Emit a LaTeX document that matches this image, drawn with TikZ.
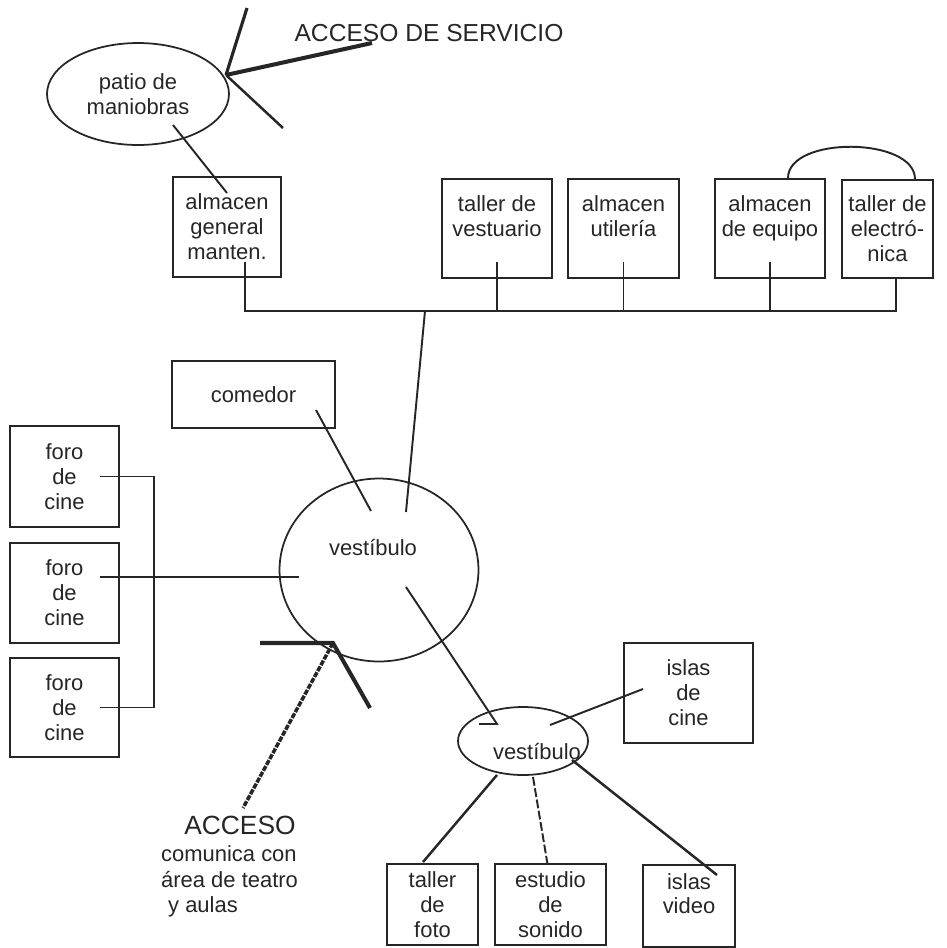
\documentclass[tikz,border=0pt]{standalone}
\usepackage{fontspec}
\setmainfont{Liberation Sans}
\usetikzlibrary{shapes.geometric}

\definecolor{ink}{gray}{0.15}
\newcommand{\roomfont}{\fontsize{12.5}{14.2}\selectfont}

\tikzset{
  room/.style={draw=ink, line width=1pt, align=center, inner sep=0pt},
  hall/.style={draw=ink, ellipse, line width=1pt, inner sep=0pt, align=center},
  link/.style={draw=ink, line width=1.1pt},
  entry/.style={draw=ink, line width=2.3pt},
}

\begin{document}
\begin{tikzpicture}[x=0.02cm, y=-0.02cm, font=\roomfont, text=ink]
        \useasboundingbox (0,0) rectangle (947,948);

        % Service yard and its access
        \node (patio) [hall, minimum width=3.64cm, minimum height=2.04cm] at (138,94) {patio de\\maniobras};
        \node (svctext) [anchor=base, font=\fontsize{14}{16}\selectfont] at (429,41) {ACCESO DE SERVICIO};
        \coordinate (svc) at (226,75);
        \coordinate (svcN) at (247,8);
        \coordinate (svcE) at (372,43);
        \coordinate (svcS) at (283,128);
        \draw[entry, line width=1.8pt] (svc) -- (svcN);
        \draw[entry] (svc) -- (svcE);
        \draw[link, line width=1.4pt] (svc) -- (svcS);

        % Workshops and stores
        \node (almgen) [room, minimum width=2.16cm, minimum height=2cm] at (227,227) {almacen\\general\\manten.};
        \node (vestuario) [room, minimum width=2.2cm, minimum height=1.98cm] at (497,228.5) {taller de\\vestuario\\\mbox{}};
        \node (utileria) [room, minimum width=2.22cm, minimum height=1.98cm] at (623.5,228.5) {almacen\\utilería\\\mbox{}};
        \node (equipo) [room, minimum width=2.2cm, minimum height=1.98cm] at (770,228.5) {almacen\\de equipo\\\mbox{}};
        \node (electro) [room, minimum width=1.82cm, minimum height=1.96cm] at (887.5,229) {taller de\\electró-\\nica};

        \draw[link] ([shift={(35,31)}]patio.center) -- ([shift={(0,-34)}]almgen.center);
        \draw[link] ([xshift=0.36cm]equipo.north) .. controls +(0,0.85cm) and +(0,0.85cm) .. ([xshift=0.55cm]electro.north);

        % Bus
        \coordinate (busL) at (245,311);
        \coordinate (busR) at (896,311);
        \coordinate (trunk) at (425,311);
        \draw[link] ([shift={(18,35)}]almgen.center) -- (busL) -- (busR) -- (electro.south -| busR);
        \foreach \b in {vestuario, utileria, equipo}
            \draw[link] ([yshift=-0.67cm]\b.center) -- (\b.center |- busL);

        % Main hall
        \node (vbig) [hall, minimum width=3.98cm, minimum height=3.66cm] at (379,570) {};
        \node (vbiglbl) at (373,548) {vestíbulo};
        \node (comedor) [room, minimum width=3.26cm, minimum height=1.34cm] at (253.5,394.5) {comedor};
        \draw[link] (trunk) -- ([shift={(27,-58)}]vbig.center);
        \draw[link] ([shift={(62.5,15.5)}]comedor.center) -- ([shift={(-8,-59)}]vbig.center);

        % Film stages
        \node (foro1) [room, minimum width=2.18cm, minimum height=2.02cm] at (64.5,476.5) {foro\\de\\cine};
        \node (foro2) [room, minimum width=2.18cm, minimum height=2cm] at (64.5,593) {foro\\de\\cine};
        \node (foro3) [room, minimum width=2.18cm, minimum height=1.98cm] at (64.5,707.5) {foro\\de\\cine};
        \draw[link] ([xshift=0.71cm]foro1.center) -| ([xshift=1.79cm]foro3.center) -- ([xshift=0.71cm]foro3.center);
        \draw[link] ([shift={(35.5,-16)}]foro2.center) -- ([shift={(-80,7)}]vbig.center);

        % Main access
        \coordinate (gate) at (333,643);
        \coordinate (gateL) at (260,643);
        \coordinate (gateR) at (370,708);
        \coordinate (gateS) at (243,808);
        \draw[entry, line join=miter] (gateL) -- (gate) -- (gateR);
        \draw[entry, line width=2pt, dash pattern=on 3pt off 0.8pt] (gate) -- (gateS);
        \node (acceso) [anchor=base, font=\fontsize{15}{17}\selectfont] at (240,834) {ACCESO};
        \node (acc1) [anchor=base west] at (155,861) {comunica con};
        \node (acc2) [anchor=base west] at (155,887) {área de teatro};
        \node (acc3) [anchor=base west] at (162,912) {y aulas};

        % Second hall
        \node (vsmall) [hall, minimum width=2.6cm, minimum height=1.36cm] at (523,741) {};
        \node (vsmalllbl) at (537,752) {vestíbulo};
        \draw[link] ([shift={(27,17)}]vbig.center) -- ([shift={(-26,-17)}]vsmall.center) -- ++(-18,0);

        \node (islascine) [room, minimum width=2.58cm, minimum height=2cm] at (688.5,693) {islas\\de\\cine};
        \node (foto) [room, minimum width=1.82cm, minimum height=1.62cm] at (432.5,904.5) {taller\\de\\foto};
        \node (sonido) [room, minimum width=2.22cm, minimum height=1.62cm] at (550.5,904.5) {estudio\\de\\sonido};
        \node (video) [room, minimum width=1.84cm, minimum height=1.64cm] at (689,906) {islas\\video\\\mbox{}};

        \draw[link] ([shift={(27,-16)}]vsmall.center) -- ([shift={(-45.5,-4)}]islascine.center);
        \draw[link, line width=1.4pt] ([shift={(-26,34)}]vsmall.center) -- ([shift={(-9.5,-42.5)}]foto.center);
        \draw[link, dash pattern=on 5pt off 1.5pt] ([shift={(10,36)}]vsmall.center) -- ([shift={(-2.5,-37.5)}]sonido.center);
        \draw[link, line width=1.4pt] ([shift={(49,19)}]vsmall.center) -- ([shift={(28,-31)}]video.center);
    \end{tikzpicture}
\end{document}
